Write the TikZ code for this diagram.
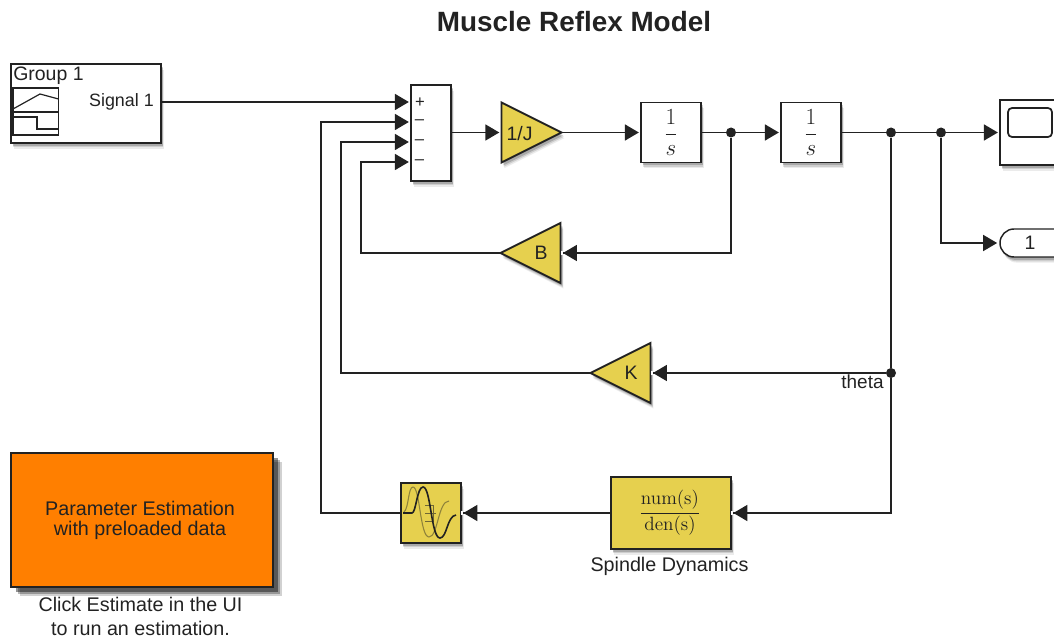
\documentclass[tikz,border=0pt]{standalone}
\usepackage[no-math]{fontspec}
\setmainfont{Liberation Sans}
\usetikzlibrary{arrows.meta,shapes.geometric,shapes.misc,shadows,calc}
\definecolor{blockyellow}{HTML}{E6D04E}
\definecolor{blockorange}{HTML}{FF7F00}
\definecolor{ink}{HTML}{222222}
\tikzset{
  x=0.75pt,y=-0.75pt,
  softshadow/.style={
    general shadow={fill=black,opacity=.08,shadow xshift=2.2pt,shadow yshift=-4.2pt},
    general shadow={fill=black,opacity=.12,shadow xshift=1.8pt,shadow yshift=-3.2pt},
    general shadow={fill=black,opacity=.18,shadow xshift=1.4pt,shadow yshift=-2.2pt}},
  bigshadow/.style={
    general shadow={fill=black,opacity=.18,shadow xshift=6.4pt,shadow yshift=-6.4pt},
    general shadow={fill=black,opacity=.28,shadow xshift=5pt,shadow yshift=-5pt},
    general shadow={fill=black,opacity=.42,shadow xshift=3.6pt,shadow yshift=-3.6pt}},
  blockbase/.style={draw=ink,line width=1.4pt,inner sep=0pt,outer sep=0pt,font=\fontsize{14.8}{16}\selectfont,text=ink},
  whiteblock/.style={blockbase,softshadow,fill=white,rectangle},
  yellowblock/.style={blockbase,softshadow,fill=blockyellow,rectangle},
  gainright/.style={blockbase,softshadow,fill=blockyellow,isosceles triangle,isosceles triangle apex angle=53.13,isosceles triangle stretches,minimum width=60*0.75pt,minimum height=60*0.75pt},
  gainleft/.style={gainright,shape border rotate=180},
  sig/.style={draw=ink,line width=1.3pt,-{Triangle[length=10.5pt,width=12pt]},shorten >=1.6pt},
  sigleft/.style={draw=ink,line width=1.3pt,-{Triangle[length=10.5pt,width=12pt] Bar[color=white,line width=1.5pt,width=3pt,sep=0pt]},shorten >=.3pt},
  plain/.style={draw=ink,line width=1.3pt},
  dotj/.style={circle,fill=ink,inner sep=0pt,minimum size=7.5pt},
  caption/.style={font=\fontsize{14.8}{18}\selectfont,text=ink,align=center,inner sep=0pt},
  signtext/.style={font=\fontsize{14.6}{16}\selectfont,text=ink,inner sep=0pt},
  portsign/.style={font=\fontsize{12.5}{12.5}\selectfont,text=ink,inner sep=0pt},
  iconline/.style={draw=ink,line width=1.1pt},
}
\begin{document}
\begin{tikzpicture}
\useasboundingbox (0,0) rectangle (1054,638);
\clip (0,0) rectangle (1054,638);

\node[font=\bfseries\fontsize{20.9}{24}\selectfont,text=ink,inner sep=0pt] (title) at (574,22) {Muscle Reflex Model};

% Signal builder
\node[whiteblock,minimum width=150*0.75pt,minimum height=79*0.75pt] (sb) at (86,103.5) {};
\node[signtext,anchor=west] (grp) at (13,75.5) {Group 1};
\node[signtext,anchor=east,font=\fontsize{13.4}{16}\selectfont] (sgl) at (154,102) {Signal 1};
\draw[iconline] (13,88) rectangle (58.5,135);
\draw[iconline] (13,112) -- (58.5,112);
\draw[draw=ink,line width=2pt] (13,88) -- (13,135);
\draw[iconline,line width=.9pt] (13,109) -- (40,94) -- (58.5,99);
\draw[iconline] (13,117) -- (37,117) -- (37,129) -- (58.5,129);

% Sum
\node[whiteblock,minimum width=40*0.75pt,minimum height=96*0.75pt] (sum) at (431,133) {};
\coordinate (p1) at (411,102);
\coordinate (p2) at (411,122);
\coordinate (p3) at (411,142);
\coordinate (p4) at (411,162);
\node[portsign] (s1) at (420,103) {+};
\node[portsign] (s2) at (419.5,122) {–};
\node[portsign] (s3) at (419.5,142) {–};
\node[portsign] (s4) at (419.5,162) {–};

% Forward path
\node[gainright] (gj) at (520,132.5) {};
\node[signtext] (gjt) at (519.5,134) {1/J};
\node[whiteblock,minimum width=60*0.75pt,minimum height=60*0.75pt,font=\fontsize{19}{20}\selectfont] (i1) at (671,132.5) {$\displaystyle\frac{1}{s}$};
\node[whiteblock,minimum width=60*0.75pt,minimum height=60*0.75pt,font=\fontsize{19}{20}\selectfont] (i2) at (811,132.5) {$\displaystyle\frac{1}{s}$};

% Scope
\node[whiteblock,minimum width=90*0.75pt,minimum height=65*0.75pt] (scope) at (1045,132.5) {};
\draw[iconline,line width=1.3pt,rounded corners=3pt] (1008,108) rectangle (1052,137);
\node[draw=ink,line width=1.1pt,fill=white,inner sep=0pt,rounded rectangle,minimum width=90*0.75pt,minimum height=28*0.75pt,softshadow] (outp) at (1045,243) {};
\node[signtext] (outt) at (1030,243) {1};

% Feedback gains
\node[gainleft] (gb) at (542,253) {};
\node[signtext] (gbt) at (541,252.5) {B};
\node[gainleft] (gk) at (632,373) {};
\node[signtext] (gkt) at (631,372.5) {K};
\node[yellowblock,minimum width=120*0.75pt,minimum height=72*0.75pt] (sd) at (671,513) {};
\node[font=\fontsize{14.6}{16}\selectfont,text=ink,inner sep=0pt] (sdt) at (670,513) {$\displaystyle\frac{\mathrm{num(s)}}{\mathrm{den(s)}}$};
\node[caption] (sdc) at (669.5,566) {Spindle Dynamics};
\node[yellowblock,minimum width=60*0.75pt,minimum height=60*0.75pt] (nl) at (431,513) {};
\draw[draw=ink!45!blockyellow,line width=.8pt] (404,512) .. controls (409,508) and (408,487) .. (413,487) .. controls (420,487) and (420,537) .. (429,537) .. controls (438,537) and (438,501) .. (449,501);
\draw[draw=ink!60!blockyellow,line width=.7pt] (425,505) -- (433,505) -- (433,521) -- (425,521) (425,513) -- (436,513);
\draw[draw=ink,line width=1.2pt] (403,513) -- (412,513) .. controls (416,513) and (417,487) .. (423,487) .. controls (431,487) and (431,538) .. (440,538) .. controls (447,538) and (447,516) .. (456,515);

% Orange block
\node[blockbase,bigshadow,fill=blockorange,rectangle,minimum width=262*0.75pt,minimum height=134*0.75pt] (pe) at (142,520) {};
\node[font=\fontsize{14.8}{15}\selectfont,text=ink,align=center,inner sep=0pt] (pet) at (140,520.5) {Parameter Estimation\\with preloaded data};
\node[caption] (pec) at (140.5,616) {Click Estimate in the UI\\to run an estimation.};

% Junctions
\node[dotj] (j1) at (731,132.5) {};
\node[dotj] (j2) at (891,132.5) {};
\node[dotj] (j3) at (941,132.5) {};
\node[dotj] (j4) at (891,373) {};
\node[signtext,font=\fontsize{14.2}{16}\selectfont] (th) at (862.5,382) {theta};

% Connectors
\draw[sig] (sb.east |- sgl) -- (p1);
\draw[sig] (sum.east |- gj) -- (gj.lower side);
\draw[sig] (gj.apex) -- (i1.west);
\draw[plain] (i1.east) -- (j1);
\draw[sig] (j1) -- (i2.west);
\draw[plain] (i2.east) -- (j2);
\draw[plain] (j2) -- (j3);
\draw[sig] (j3) -- (scope.west);
\draw[sig] (j3) |- (outp.west);
\draw[sigleft] (j1) |- (gb.lower side);
\draw[plain] (j2) -- (j4);
\draw[sigleft] (j4) -- (gk.lower side);
\draw[sigleft] (j4) |- (sd.east);
\draw[sigleft] (sd.west) -- (nl.east);
\draw[sig] (gb.apex) -- (361,253) |- (p4);
\draw[sig] (gk.apex) -- (341,373) |- (p3);
\draw[sig] (nl.west) -- (321,513) |- (p2);
\end{tikzpicture}
\end{document}
